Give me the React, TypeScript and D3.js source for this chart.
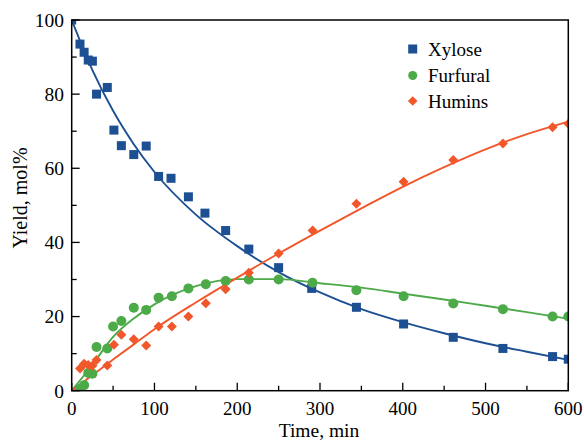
import React from "react";
import * as d3 from "d3";

// ---- Data ----
const xyloseT = [0, 10, 15, 20, 25, 30, 43, 51, 60, 75, 90, 105, 120, 141, 161, 186, 214, 250, 290, 344, 401, 461, 521, 581, 600];
const xyloseY = [100, 93.5, 91.3, 89.2, 88.9, 80, 81.8, 70.3, 66.1, 63.7, 66, 57.8, 57.3, 52.3, 47.9, 43.2, 38.2, 33.2, 27.6, 22.5, 18, 14.4, 11.4, 9.2, 8.5];

const furfuralT = [10, 15, 20, 25, 30, 43, 50, 60, 75, 90, 105, 121, 141, 162, 186, 214, 250, 291, 344, 401, 461, 521, 581, 600];
const furfuralY = [0.5, 1.5, 4.8, 4.6, 11.8, 11.4, 17.3, 18.8, 22.4, 21.8, 25.1, 25.5, 27.6, 28.7, 29.6, 30.0, 30.0, 29.1, 27.1, 25.5, 23.5, 22, 20, 20];

const huminsT = [10, 15, 20, 25, 30, 43, 51, 60, 75, 90, 105, 121, 141, 162, 186, 214, 250, 291, 344, 401, 461, 521, 581, 600];
const huminsY = [6.0, 7.3, 6.9, 6.7, 8.3, 6.8, 12.4, 15.1, 13.9, 12.2, 17.3, 17.3, 20, 23.6, 27.4, 31.8, 37, 43.2, 50.4, 56.4, 62.2, 66.7, 71.1, 72];

// Fitted model curves
const fitT = [0, 25, 50, 75, 100, 150, 200, 250, 300, 350, 400, 450, 500, 550, 600];
const xyloseFit = [100, 86.5, 75.5, 66.5, 59, 47.5, 39, 32, 26.5, 22, 18.5, 15.5, 12.8, 10.5, 8.3];
const furfuralFit = [0, 7, 14.5, 19.5, 23.3, 28.2, 30.1, 30.1, 29.0, 27.8, 26.2, 24.6, 22.9, 21.2, 19.4];
const huminsFit = [0, 4.2, 8.4, 12.5, 16.6, 23.8, 30.5, 37, 43.2, 49.2, 55, 60.3, 65.1, 69.2, 72.6];

const xTicks = [0, 100, 200, 300, 400, 500, 600];
const xMinor = [50, 150, 250, 350, 450, 550];
const yTicks = [0, 20, 40, 60, 80, 100];
const yMinor = [10, 30, 50, 70, 90];

const BLUE = "#1d4f93";
const GREEN = "#4caa48";
const ORANGE = "#f2572b";
const FONT = "'Liberation Serif', 'Times New Roman', serif";

export default function App() {
  const W = 584, H = 441;
  const x = d3.scaleLinear().domain([0, 600]).range([71.7, 568.3]);
  const y = d3.scaleLinear().domain([0, 100]).range([390.7, 20]);
  const [x0, x1] = x.range();
  const [yb, yt] = y.range();

  const line = d3.line<[number, number]>()
    .x((d) => x(d[0]))
    .y((d) => y(d[1]))
    .curve(d3.curveMonotoneX);

  const zip = (a: number[], b: number[]) => a.map((t, i) => [t, b[i]] as [number, number]);

  const sq = 9;
  const diamond = (cx: number, cy: number, r: number) =>
    `M${cx},${cy - r}L${cx + r},${cy}L${cx},${cy + r}L${cx - r},${cy}Z`;

  return (
    <svg width={W} height={H} style={{ position: "absolute", left: 0, top: 0, background: "#fff" }} fontFamily={FONT}>
      <defs>
        <clipPath id="plot">
          <rect x={x0} y={yt} width={x1 - x0} height={yb - yt} />
        </clipPath>
      </defs>
      <g clipPath="url(#plot)">
        <path d={line(zip(fitT, xyloseFit)) || ""} fill="none" stroke={BLUE} strokeWidth={1.9} />
        <path d={line(zip(fitT, furfuralFit)) || ""} fill="none" stroke={GREEN} strokeWidth={1.9} />
        <path d={line(zip(fitT, huminsFit)) || ""} fill="none" stroke={ORANGE} strokeWidth={1.9} />
        {xyloseT.map((t, i) => (
          <rect key={"x" + i} x={x(t) - sq / 2} y={y(xyloseY[i]) - sq / 2} width={sq} height={sq} fill={BLUE} />
        ))}
        {furfuralT.map((t, i) => (
          <circle key={"f" + i} cx={x(t)} cy={y(furfuralY[i])} r={5} fill={GREEN} />
        ))}
        {huminsT.map((t, i) => (
          <path key={"h" + i} d={diamond(x(t), y(huminsY[i]), 5)} fill={ORANGE} />
        ))}
      </g>
      {/* frame */}
      <rect x={x0} y={yt} width={x1 - x0} height={yb - yt} fill="none" stroke="#000" strokeWidth={1.5} />
      {/* x ticks */}
      {xTicks.map((t) => (
        <g key={"xt" + t}>
          <line x1={x(t)} x2={x(t)} y1={yb} y2={yb - 8} stroke="#000" strokeWidth={1.3} />
          <text x={x(t)} y={414.5} textAnchor="middle" fontSize={19} fill="#000">{t}</text>
        </g>
      ))}
      {xMinor.map((t) => (
        <line key={"xm" + t} x1={x(t)} x2={x(t)} y1={yb} y2={yb - 5} stroke="#000" strokeWidth={1.3} />
      ))}
      {yTicks.map((v) => (
        <g key={"yt" + v}>
          <line x1={x0} x2={x0 + 8} y1={y(v)} y2={y(v)} stroke="#000" strokeWidth={1.3} />
          <text x={64} y={y(v)} dy="0.35em" textAnchor="end" fontSize={19.5} fill="#000">{v}</text>
        </g>
      ))}
      {yMinor.map((v) => (
        <line key={"ym" + v} x1={x0} x2={x0 + 5} y1={y(v)} y2={y(v)} stroke="#000" strokeWidth={1.3} />
      ))}
      {/* axis titles */}
      <text x={319} y={436.5} textAnchor="middle" fontSize={19.5} fill="#000">Time, min</text>
      <text transform="translate(26.5,198) rotate(-90)" textAnchor="middle" fontSize={20} fill="#000">Yield, mol%</text>
      {/* legend */}
      <g fontSize={19} fill="#000">
        <rect x={412.7 - 4.5} y={49 - 4.5} width={9} height={9} fill={BLUE} />
        <text x={428} y={49} dy="0.35em">Xylose</text>
        <circle cx={412.7} cy={75.5} r={4.5} fill={GREEN} />
        <text x={428} y={75.5} dy="0.35em">Furfural</text>
        <path d={diamond(412.7, 101, 4.8)} fill={ORANGE} />
        <text x={428} y={101} dy="0.35em">Humins</text>
      </g>
    </svg>
  );
}
